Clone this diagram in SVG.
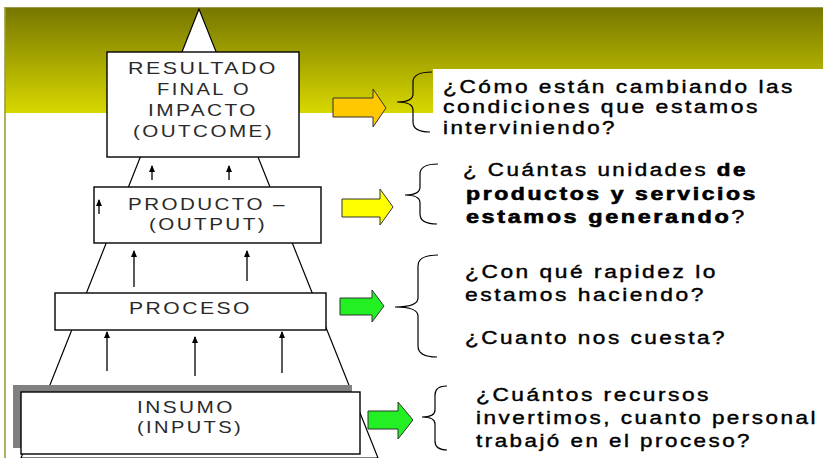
<svg xmlns="http://www.w3.org/2000/svg" width="823" height="458" viewBox="0 0 823 458">
  <defs>
    <linearGradient id="band" x1="0" y1="0" x2="0" y2="1">
      <stop offset="0" stop-color="#767600"/>
      <stop offset="0.5" stop-color="#a6a600"/>
      <stop offset="1" stop-color="#d8d800"/>
    </linearGradient>
    <marker id="ah" markerWidth="7" markerHeight="6" refX="6" refY="3" orient="auto" markerUnits="userSpaceOnUse" viewBox="0 0 7 6">
      <path d="M0,0 L7,3 L0,6 Z" fill="#000"/>
    </marker>
  </defs>
  <style>
    .box { fill: #fff; stroke: #000; stroke-width: 1.4; }
    .lbl { font-family: "Liberation Sans", Arial, sans-serif; font-size: 17px; fill: #2a2a2a; letter-spacing: 2px; }
    .q { font-family: "Liberation Sans", Arial, sans-serif; font-size: 18px; fill: #000; stroke: #000; stroke-width: 0.4; letter-spacing: 2px; }
    .b { font-weight: bold; stroke-width: 0.6; }
    .up { stroke: #000; stroke-width: 1.3; fill: none; }
    .brace { stroke: #000; stroke-width: 1.2; fill: none; }
    .barrow { stroke: #333; stroke-width: 1; }
  </style>

  <!-- background -->
  <rect x="0" y="0" width="823" height="458" fill="#fff"/>
  <rect x="5" y="7" width="818" height="106" fill="url(#band)"/>
  <line x1="5" y1="7.5" x2="823" y2="7.5" stroke="#9a9a50" stroke-width="1"/>
  <rect x="433" y="69" width="390" height="44" fill="#fff"/>
  <line x1="5" y1="7" x2="5" y2="458" stroke="#9c9c3a" stroke-width="1.6"/>

  <!-- pyramid outline -->
  <polygon id="pyramid" points="199,9 21,458 378,458" fill="#fff" stroke="#000" stroke-width="1.2"/>

  <!-- connectors -->
  <g id="connectors">
    <line class="up" x1="152" y1="180" x2="152" y2="166" marker-end="url(#ah)"/>
    <line class="up" x1="229" y1="180" x2="229" y2="166" marker-end="url(#ah)"/>
    <line class="up" x1="134" y1="287" x2="134" y2="251" marker-end="url(#ah)"/>
    <line class="up" x1="247" y1="281" x2="247" y2="251" marker-end="url(#ah)"/>
    <line class="up" x1="107" y1="371" x2="107" y2="332" marker-end="url(#ah)"/>
    <line class="up" x1="195" y1="376" x2="195" y2="337" marker-end="url(#ah)"/>
    <line class="up" x1="282" y1="373" x2="282" y2="332" marker-end="url(#ah)"/>

    <polygon class="barrow" fill="#ffc800" points="333,98 373,98 373,89 386,108 373,127 373,117 333,117"/>
    <polygon class="barrow" fill="#ffff00" points="342,199 380,199 380,189 393,207 380,225 380,217 342,217"/>
    <polygon class="barrow" fill="#22f022" points="340,298 372,298 372,290 384,306 372,322 372,315 340,315"/>
    <polygon class="barrow" fill="#22f022" points="368,411 398,411 398,402 413,420 398,439 398,429 368,429"/>

    <path class="brace" d="M432,72 Q413,72 413,82 L413,94 Q413,102 397,102 Q413,102 413,110 L413,122 Q413,132 430,132"/>
    <path class="brace" d="M438,164 Q420,164 420,174 L420,187 Q420,195 405,195 Q420,195 420,203 L420,214 Q420,224 437,224"/>
    <path class="brace" d="M438,255 Q418,255 418,266 L418,298 Q418,307 395,307 Q418,307 418,316 L418,346 Q418,357 437,357"/>
    <path class="brace" d="M447,386 Q435,386 435,395 L435,410 Q435,417 422,417 Q435,417 435,424 L435,441 Q435,450 447,450"/>
  </g>

  <!-- nodes -->
  <g id="resultado">
    <rect class="box" x="107" y="52" width="192" height="105"/>
    <text class="lbl" x="128" y="74" textLength="150" lengthAdjust="spacingAndGlyphs">RESULTADO</text>
    <text class="lbl" x="157" y="95" textLength="94" lengthAdjust="spacingAndGlyphs">FINAL O</text>
    <text class="lbl" x="148" y="116" textLength="110" lengthAdjust="spacingAndGlyphs">IMPACTO</text>
    <text class="lbl" x="133" y="137" textLength="141" lengthAdjust="spacingAndGlyphs">(OUTCOME)</text>
  </g>

  <g id="producto">
    <rect class="box" x="94" y="187" width="227" height="56"/>
    <line class="up" x1="99" y1="214" x2="99" y2="200" marker-end="url(#ah)"/>
    <text class="lbl" x="128" y="210" textLength="159" lengthAdjust="spacingAndGlyphs">PRODUCTO –</text>
    <text class="lbl" x="149" y="230" textLength="118" lengthAdjust="spacingAndGlyphs">(OUTPUT)</text>
  </g>

  <g id="proceso">
    <rect class="box" x="55" y="293" width="271" height="37"/>
    <text class="lbl" x="129" y="314" textLength="123" lengthAdjust="spacingAndGlyphs">PROCESO</text>
  </g>

  <g id="insumo">
    <rect x="13" y="385" width="339" height="63" fill="#808080"/>
    <rect class="box" x="21" y="392" width="339" height="62"/>
    <text class="lbl" x="137" y="413" textLength="98" lengthAdjust="spacingAndGlyphs">INSUMO</text>
    <text class="lbl" x="137" y="433" textLength="106" lengthAdjust="spacingAndGlyphs">(INPUTS)</text>
  </g>

  <g id="q-outcome">
    <text class="q" x="443" y="93" textLength="352" lengthAdjust="spacingAndGlyphs">¿Cómo están cambiando las</text>
    <text class="q" x="443" y="113" textLength="317" lengthAdjust="spacingAndGlyphs">condiciones que estamos</text>
    <text class="q" x="443" y="134" textLength="174" lengthAdjust="spacingAndGlyphs">interviniendo?</text>
  </g>

  <g id="q-output">
    <text class="q" x="463" y="176" textLength="285" lengthAdjust="spacingAndGlyphs">¿ Cuántas unidades <tspan class="b">de</tspan></text>
    <text class="q b" x="466" y="200" textLength="292" lengthAdjust="spacingAndGlyphs">productos y servicios</text>
    <text class="q" x="466" y="223" textLength="281" lengthAdjust="spacingAndGlyphs"><tspan class="b">estamos generando</tspan>?</text>
  </g>

  <g id="q-proceso">
    <text class="q" x="465" y="278" textLength="253" lengthAdjust="spacingAndGlyphs">¿Con qué  rapidez lo</text>
    <text class="q" x="465" y="301" textLength="241" lengthAdjust="spacingAndGlyphs">estamos haciendo?</text>
    <text class="q" x="465" y="344" textLength="262" lengthAdjust="spacingAndGlyphs">¿Cuanto nos cuesta?</text>
  </g>

  <g id="q-insumo">
    <text class="q" x="476" y="401" textLength="235" lengthAdjust="spacingAndGlyphs">¿Cuántos recursos</text>
    <text class="q" x="476" y="424" textLength="342" lengthAdjust="spacingAndGlyphs">invertimos, cuanto personal</text>
    <text class="q" x="476" y="447" textLength="276" lengthAdjust="spacingAndGlyphs">trabajó en el proceso?</text>
  </g>
</svg>
